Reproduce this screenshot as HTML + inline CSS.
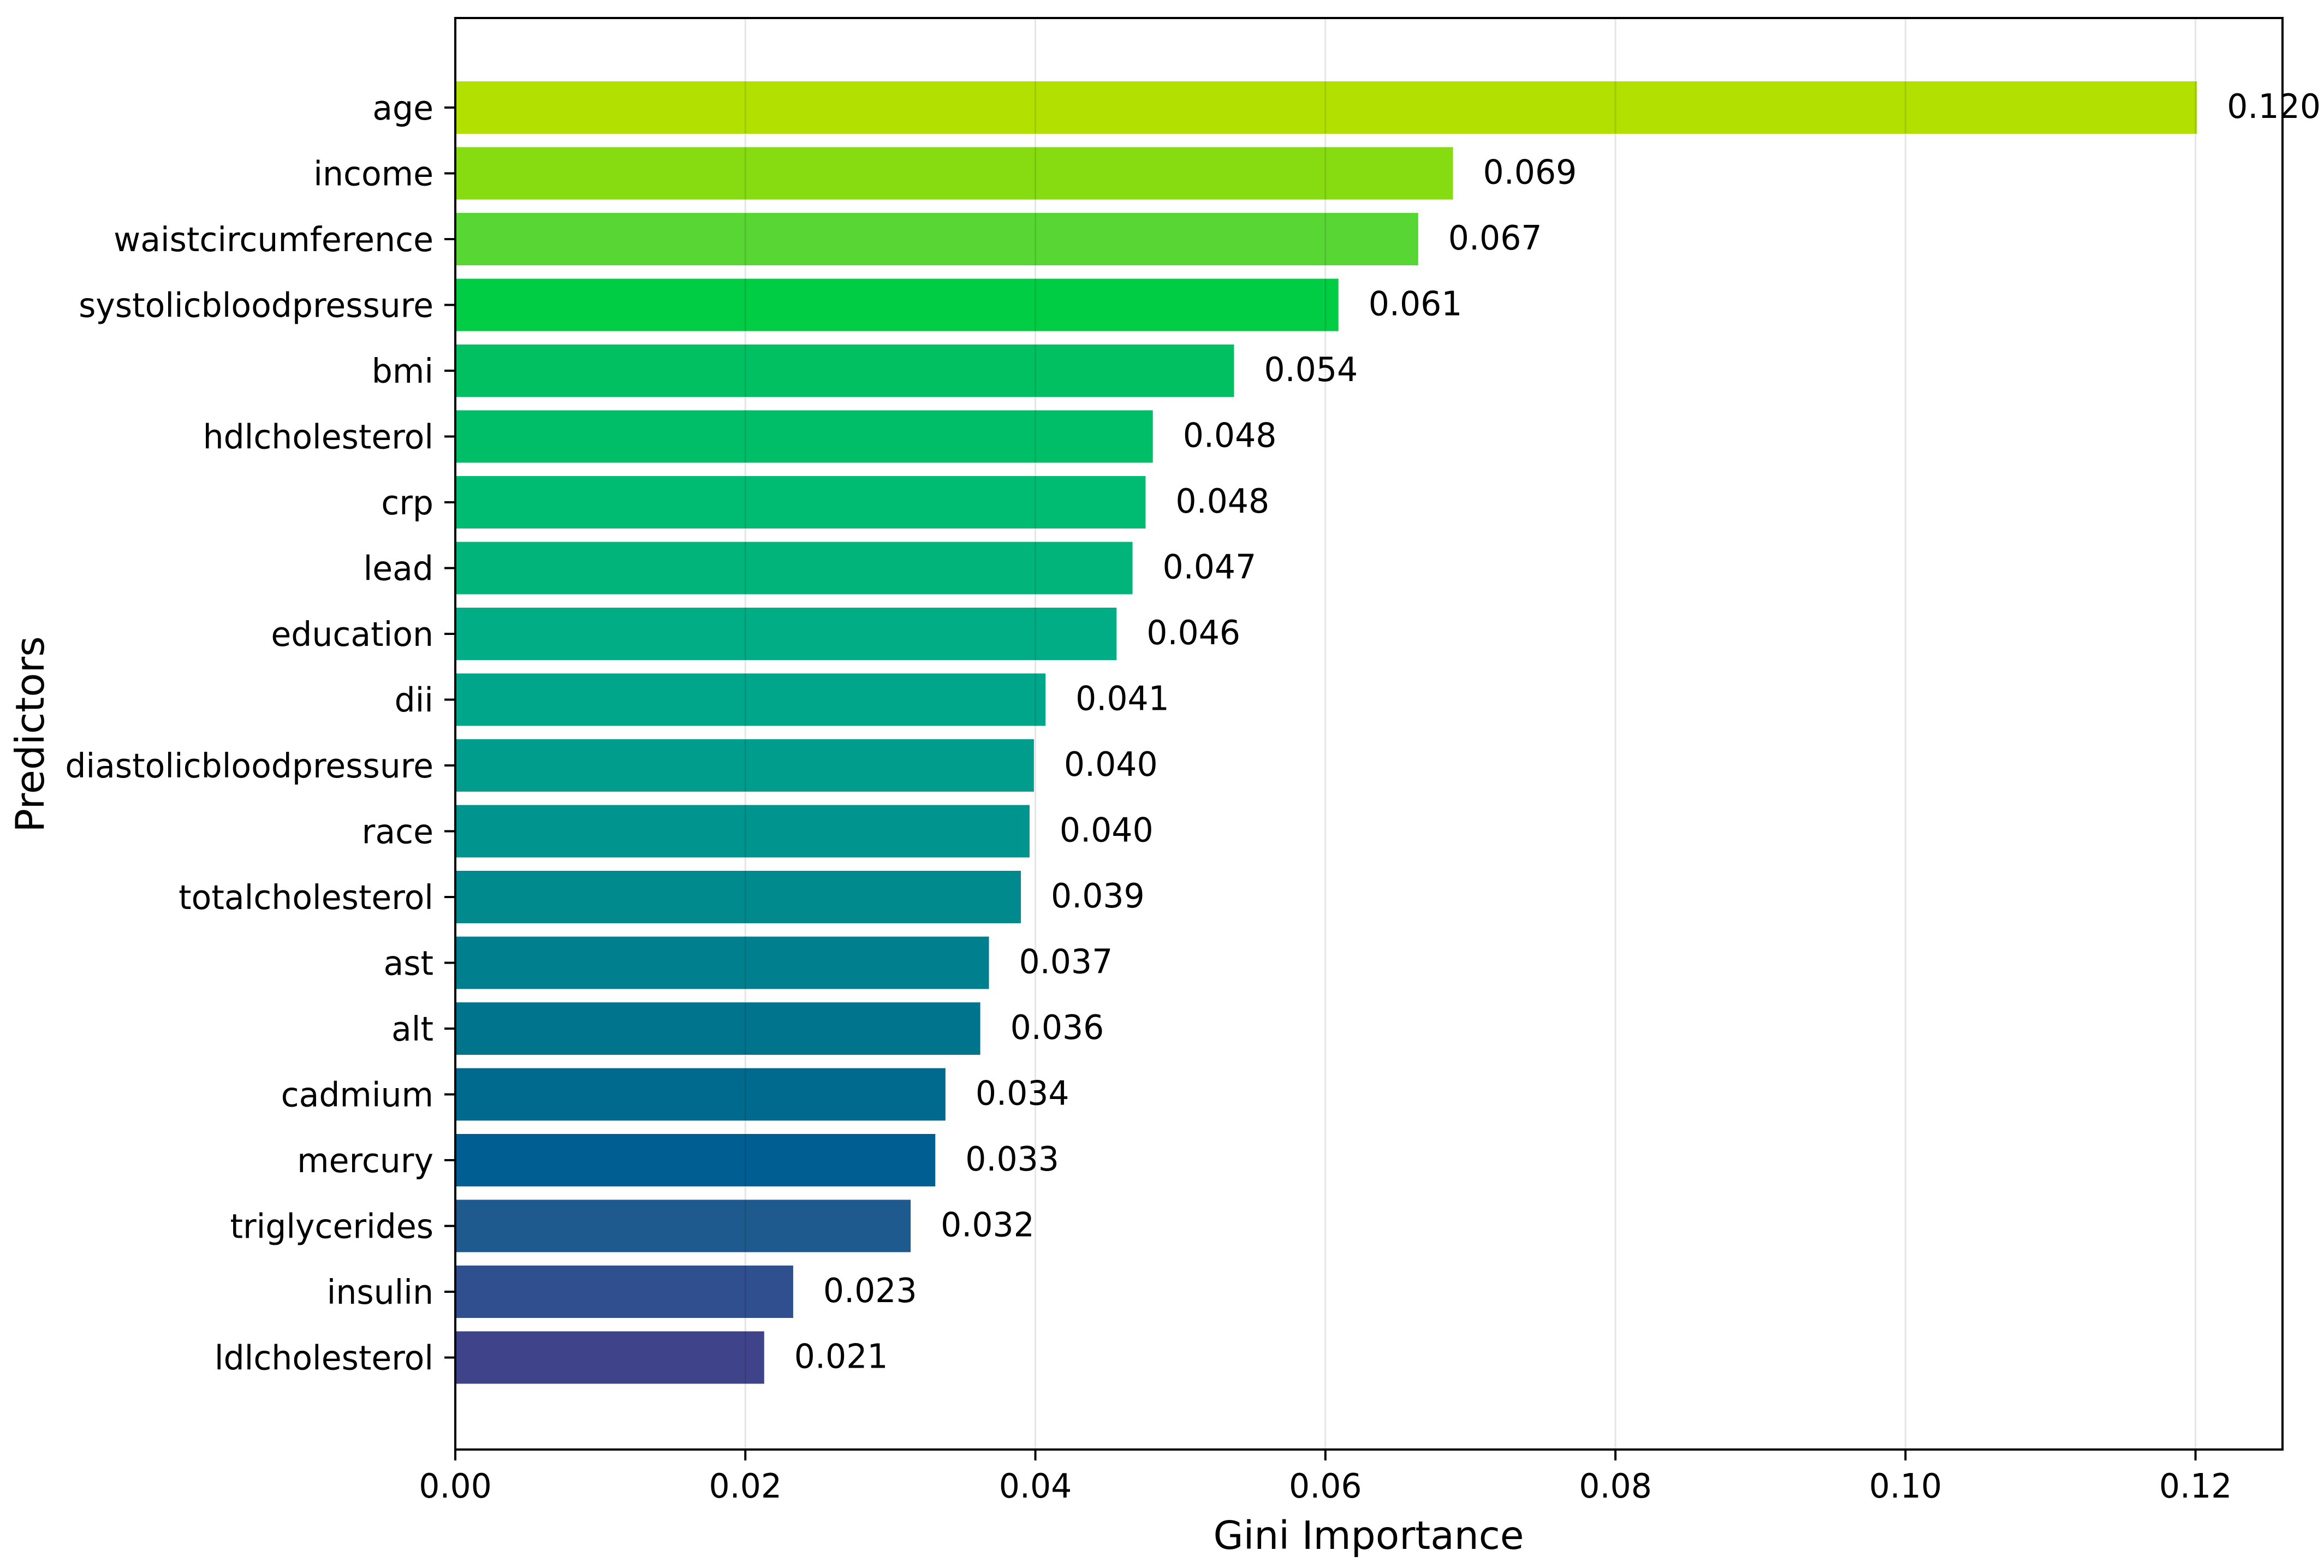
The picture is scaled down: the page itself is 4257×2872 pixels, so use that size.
<!DOCTYPE html>
<html><head><meta charset="utf-8"><style>
html,body{margin:0;padding:0;background:#fff}
svg{display:block}
text{font-family:"DejaVu Sans","Liberation Sans",sans-serif;fill:#000}
</style></head><body>
<svg id="chart" width="4257" height="2872" viewBox="0 0 4257 2872" xmlns="http://www.w3.org/2000/svg">
<g id="bars"></g>
<g id="grid"></g>
<g id="vals"></g>
<g id="yaxis"></g>
<g id="xaxis"></g>
<rect x="834" y="33" width="3347" height="2622" fill="none" stroke="#000" stroke-width="4"/>
<text x="2507" y="2837" font-size="71" text-anchor="middle" transform="translate(0,2837) scale(1,1.0) translate(0,-2837)">Gini Importance</text>
<text x="0" y="0" font-size="72" text-anchor="middle" transform="translate(80,1345) rotate(-90)">Predictors</text>
</svg>
<script>
const categories = ["age","income","waistcircumference","systolicbloodpressure","bmi","hdlcholesterol","crp","lead","education","dii","diastolicbloodpressure","race","totalcholesterol","ast","alt","cadmium","mercury","triglycerides","insulin","ldlcholesterol"];
const values = [0.1201,0.0688,0.0664,0.0609,0.0537,0.0481,0.0476,0.0467,0.0456,0.0407,0.0399,0.0396,0.0390,0.0368,0.0362,0.0338,0.0331,0.0314,0.0233,0.0213];
const valueLabels = ["0.120","0.069","0.067","0.061","0.054","0.048","0.048","0.047","0.046","0.041","0.040","0.040","0.039","0.037","0.036","0.034","0.033","0.032","0.023","0.021"];
const colors = ["#b2e000","#86dc10","#57d634","#00cc44","#00c061","#00be68","#00bb72","#00b47a","#00ad84","#00a68a","#009c8c","#00948e","#008a8e","#00808e","#00748c","#006a8e","#005e92","#1e5a8e","#304f8e","#3f4389"];
const xTicks = [0,0.02,0.04,0.06,0.08,0.10,0.12];
const xTickLabels = ["0.00","0.02","0.04","0.06","0.08","0.10","0.12"];

const NS="http://www.w3.org/2000/svg";
const X0=834, X1=4181, XMAX=0.126;
const xs = v => X0 + v/XMAX*(X1-X0);
const ys = i => 197 + i*120.5;
const BH = 96;
const FS = 60, SY = 1.03;
function mk(tag, parent){const e=document.createElementNS(NS,tag);document.getElementById(parent).appendChild(e);return e;}

categories.forEach((c,i)=>{
  const r=mk('rect','bars');
  
  
  r.setAttribute('x',X0); r.setAttribute('y',ys(i)-BH/2);
  r.setAttribute('width',xs(values[i])-X0); r.setAttribute('height',BH);
  r.setAttribute('fill',colors[i]);

  const t=mk('text','vals');
  
  
  const ty=ys(i)+19;
  t.setAttribute('x',xs(values[i])+55); t.setAttribute('y',ty);
  t.setAttribute('font-size',FS);
  t.setAttribute('transform',`translate(0,${ty}) scale(1,${SY}) translate(0,${-ty})`);
  t.textContent=valueLabels[i];

  const tk=mk('line','yaxis');
  
  
  tk.setAttribute('x1',X0-20); tk.setAttribute('x2',X0);
  tk.setAttribute('y1',ys(i)); tk.setAttribute('y2',ys(i));
  tk.setAttribute('stroke','#000'); tk.setAttribute('stroke-width','4');

  const yl=mk('text','yaxis');
  
  
  const ly=ys(i)+22;
  yl.setAttribute('x',X0-40); yl.setAttribute('y',ly);
  yl.setAttribute('text-anchor','end'); yl.setAttribute('font-size',FS);
  yl.setAttribute('transform',`translate(0,${ly}) scale(1,${SY}) translate(0,${-ly})`);
  yl.textContent=c;
});

xTicks.forEach((v,i)=>{
  const g=mk('line','grid');
  
  
  g.setAttribute('x1',xs(v)); g.setAttribute('x2',xs(v));
  g.setAttribute('y1',33); g.setAttribute('y2',2655);
  g.setAttribute('stroke','rgba(0,0,0,0.1)'); g.setAttribute('stroke-width','3');

  const tk=mk('line','xaxis');
  
  
  tk.setAttribute('x1',xs(v)); tk.setAttribute('x2',xs(v));
  tk.setAttribute('y1',2655); tk.setAttribute('y2',2675);
  tk.setAttribute('stroke','#000'); tk.setAttribute('stroke-width','4');

  const t=mk('text','xaxis');
  
  
  t.setAttribute('x',xs(v)); t.setAttribute('y',2743);
  t.setAttribute('text-anchor','middle'); t.setAttribute('font-size',FS);
  t.setAttribute('transform',`translate(0,2743) scale(1,${SY}) translate(0,-2743)`);
  t.textContent=xTickLabels[i];
});
</script>
</body></html>
